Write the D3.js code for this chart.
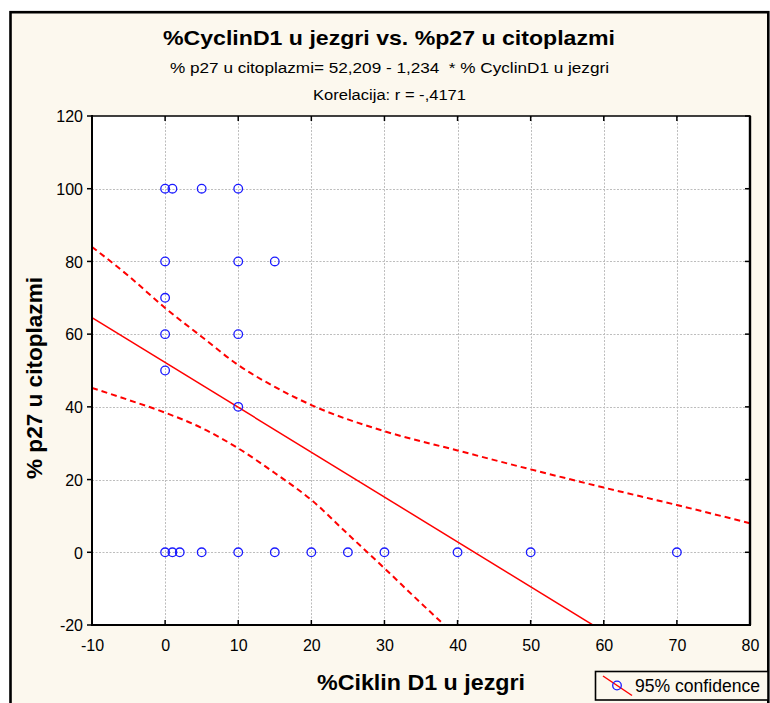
<!DOCTYPE html>
<html>
<head>
<meta charset="utf-8">
<script src="https://cdn.jsdelivr.net/npm/d3@7/dist/d3.min.js"></script>
<style>
  html, body { margin: 0; padding: 0; background: #ffffff; }
  svg { display: block; font-family: Arial, "Liberation Sans", sans-serif; }
</style>
</head>
<body>
<svg id="chart" width="770" height="703"></svg>
<script>
// ---- Data ----
const pointsX = [0, 1, 5, 10, 0, 10, 15, 0, 0, 10, 0, 10, 0, 1, 2, 5, 10, 15, 20, 25, 30, 40, 50, 70];
const pointsY = [100, 100, 100, 100, 80, 80, 80, 70, 60, 60, 50, 40, 0, 0, 0, 0, 0, 0, 0, 0, 0, 0, 0, 0];

const regIntercept = 52.209;
const regSlope = -1.234;
const regX = [-10, 80];

const upperX = [-10, -5, 0, 5, 10, 15, 20, 30, 40, 50, 60, 70, 80];
const upperY = [84, 76, 67.2, 59.3, 51.5, 45.5, 40.5, 33.3, 28, 22.8, 17.8, 13, 8];
const lowerX = [-10, -5, 0, 5, 10, 15, 20, 25, 30, 35, 38.2];
const lowerY = [45.2, 41.9, 38.4, 34.2, 28.6, 21.8, 14.4, 5, -4.4, -14, -20];

const xTicks = [-10, 0, 10, 20, 30, 40, 50, 60, 70, 80];
const yTicks = [-20, 0, 20, 40, 60, 80, 100, 120];

const titleText = "%CyclinD1 u jezgri vs. %p27 u citoplazmi";
const subtitleText = "% p27 u citoplazmi= 52,209 - 1,234 \u00a0* % CyclinD1 u jezgri";
const corrText = "Korelacija: r = -,4171";
const xTitle = "%Ciklin D1 u jezgri";
const yTitle = "% p27 u citoplazmi";
const legendText = "95% confidence";

// ---- Layout ----
const svg = d3.select("#chart");
const L = 92, R = 750, T = 116, B = 625;
const x = d3.scaleLinear().domain([-10, 80]).range([L, R]);
const y = d3.scaleLinear().domain([-20, 120]).range([B, T]);
const fmt = d => String(d);

// outer frame
svg.append("rect").attr("x", 10.5).attr("y", 12.2).attr("width", 757.8).attr("height", 720)
  .attr("fill", "#fcf8ee").attr("stroke", "#000").attr("stroke-width", 2.6);

// plot background
svg.append("rect").attr("x", L).attr("y", T).attr("width", R - L).attr("height", B - T).attr("fill", "#fff");

// grid
const grid = svg.append("g").attr("stroke", "#bdbdbd").attr("stroke-width", 1).attr("stroke-dasharray", "2,1.5");
grid.selectAll("line.v").data(xTicks.filter(d => d > -10 && d < 80)).join("line")
  .attr("x1", d => Math.round(x(d)) + 0.5).attr("x2", d => Math.round(x(d)) + 0.5)
  .attr("y1", T).attr("y2", B);
grid.selectAll("line.h").data(yTicks.filter(d => d > -20 && d < 120)).join("line")
  .attr("class", "h")
  .attr("y1", d => Math.round(y(d)) + 0.5).attr("y2", d => Math.round(y(d)) + 0.5)
  .attr("x1", L).attr("x2", R);

// clip
svg.append("clipPath").attr("id", "clip").append("rect")
  .attr("x", L).attr("y", T).attr("width", R - L).attr("height", B - T);
const plot = svg.append("g").attr("clip-path", "url(#clip)");

// regression line
const line = d3.line().x(d => x(d[0])).y(d => y(d[1]));
plot.append("path")
  .attr("d", line(regX.map(v => [v, regIntercept + regSlope * v])))
  .attr("fill", "none").attr("stroke", "#ff0000").attr("stroke-width", 1.5);

// confidence bands
const curve = d3.line().x(d => x(d[0])).y(d => y(d[1])).curve(d3.curveMonotoneX);
[[upperX, upperY], [lowerX, lowerY]].forEach(([xs, ys]) => {
  plot.append("path")
    .attr("d", curve(xs.map((v, i) => [v, ys[i]])))
    .attr("fill", "none").attr("stroke", "#ff0000").attr("stroke-width", 2)
    .attr("stroke-dasharray", "6,4");
});

// points
plot.selectAll("circle").data(pointsX.map((v, i) => [v, pointsY[i]])).join("circle")
  .attr("cx", d => x(d[0])).attr("cy", d => y(d[1])).attr("r", 4.3)
  .attr("fill", "none").attr("stroke", "#1a1aff").attr("stroke-width", 1.3);

// axes frame
svg.append("rect").attr("x", L).attr("y", T).attr("width", R - L).attr("height", B - T)
  .attr("fill", "none").attr("stroke", "#111").attr("stroke-width", 1.6);
svg.append("line").attr("x1", R).attr("x2", R).attr("y1", T).attr("y2", B).attr("stroke", "#000").attr("stroke-width", 2.4);
svg.append("line").attr("x1", L).attr("x2", L).attr("y1", T - 1).attr("y2", B + 1).attr("stroke", "#000").attr("stroke-width", 2);
svg.append("line").attr("x1", L - 1).attr("x2", R + 1).attr("y1", B).attr("y2", B).attr("stroke", "#000").attr("stroke-width", 2);

// ticks
const ticks = svg.append("g").attr("stroke", "#000").attr("stroke-width", 1.5);
xTicks.forEach(t => {
  ticks.append("line").attr("x1", x(t)).attr("x2", x(t)).attr("y1", B).attr("y2", B - 5);
  ticks.append("line").attr("x1", x(t)).attr("x2", x(t)).attr("y1", T).attr("y2", T + 5);
});
yTicks.forEach(t => {
  ticks.append("line").attr("x1", L).attr("x2", L - 5).attr("y1", y(t)).attr("y2", y(t));
  ticks.append("line").attr("x1", R).attr("x2", R - 5).attr("y1", y(t)).attr("y2", y(t));
});

// tick labels
const xAxis = d3.axisBottom(x).tickValues(xTicks).tickSize(0).tickPadding(0).tickFormat(fmt);
const gx = svg.append("g").attr("transform", `translate(0,${B})`).call(xAxis);
gx.select(".domain").remove();
gx.selectAll("text").attr("y", 26).attr("dy", 0).attr("font-size", 16).attr("fill", "#000")
  .attr("font-family", "Arial, 'Liberation Sans', sans-serif");

const yAxis = d3.axisLeft(y).tickValues(yTicks).tickSize(0).tickPadding(0).tickFormat(fmt);
const gy = svg.append("g").attr("transform", `translate(${L},0)`).call(yAxis);
gy.select(".domain").remove();
gy.selectAll("text").attr("x", -9).attr("dy", "0.36em").attr("font-size", 16).attr("fill", "#000")
  .attr("font-family", "Arial, 'Liberation Sans', sans-serif");

// titles
svg.append("text").attr("x", 389).attr("y", 45).attr("text-anchor", "middle")
  .attr("font-size", 21).attr("font-weight", "bold")
  .attr("textLength", 452).attr("lengthAdjust", "spacingAndGlyphs").text(titleText);
svg.append("text").attr("x", 389.5).attr("y", 72.5).attr("text-anchor", "middle")
  .attr("font-size", 15.5)
  .attr("textLength", 439).attr("lengthAdjust", "spacingAndGlyphs").text(subtitleText);
svg.append("text").attr("x", 389.5).attr("y", 99.5).attr("text-anchor", "middle")
  .attr("font-size", 15.5)
  .attr("textLength", 153).attr("lengthAdjust", "spacingAndGlyphs").text(corrText);

svg.append("text").attr("x", 421).attr("y", 690).attr("text-anchor", "middle")
  .attr("font-size", 22).attr("font-weight", "bold")
  .attr("textLength", 208).attr("lengthAdjust", "spacingAndGlyphs").text(xTitle);

svg.append("text").attr("transform", "translate(42,378) rotate(-90)").attr("text-anchor", "middle")
  .attr("font-size", 22).attr("font-weight", "bold")
  .attr("textLength", 202).attr("lengthAdjust", "spacingAndGlyphs").text(yTitle);

// legend
const lg = svg.append("g");
lg.append("rect").attr("x", 595.5).attr("y", 671.5).attr("width", 172.5).attr("height", 28.5)
  .attr("fill", "#fcf8ee").attr("stroke", "#000").attr("stroke-width", 1.6);
lg.append("line").attr("x1", 603).attr("y1", 676).attr("x2", 632).attr("y2", 695.5)
  .attr("stroke", "#ff0000").attr("stroke-width", 1.5);
lg.append("circle").attr("cx", 617).attr("cy", 685.5).attr("r", 4.3)
  .attr("fill", "none").attr("stroke", "#1a1aff").attr("stroke-width", 1.3);
lg.append("text").attr("x", 635).attr("y", 692).attr("font-size", 17.5)
  .attr("textLength", 125).attr("lengthAdjust", "spacingAndGlyphs").text(legendText);
</script>
</body>
</html>
